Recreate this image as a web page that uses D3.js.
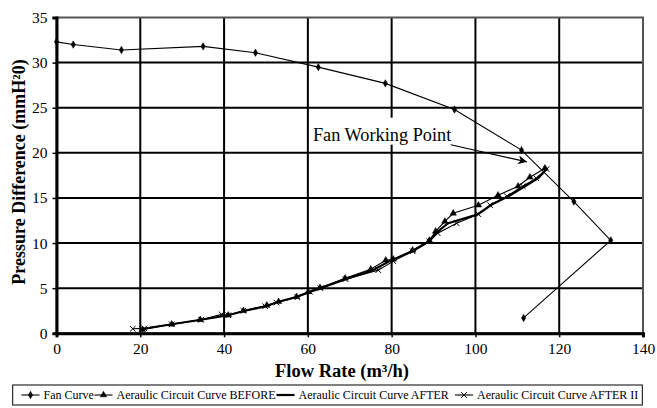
<!DOCTYPE html>
<html>
<head>
<meta charset="utf-8">
<script src="https://cdn.jsdelivr.net/npm/d3@7"></script>
<style>
  body { margin: 0; background: #fff; }
  svg { display: block; font-family: "Liberation Serif", "Times New Roman", serif; }
</style>
</head>
<body>
<svg width="657" height="408"></svg>
<script>
// data
let fanFlow = [0, 4, 15.5, 35, 47.5, 62.5, 78.5, 95, 111, 123.5, 132.3, 111.5];
let fanPressure = [32.3, 32.0, 31.4, 31.8, 31.1, 29.5, 27.7, 24.8, 20.3, 14.6, 10.3, 1.7];

let beforeFlow = [20.5, 27.5, 34.3, 41, 44.6, 50.2, 53, 57.3, 60.1, 62.9, 68.9, 75, 78.6, 80.4, 85, 89, 90.5, 92.7, 94.7, 100.7, 105.4, 110.2, 113, 116.6];
let beforePressure = [0.4, 1.0, 1.5, 2.0, 2.5, 3.1, 3.5, 4.05, 4.6, 5.05, 6.1, 7.1, 8.1, 8.2, 9.2, 10.3, 11.3, 12.4, 13.3, 14.2, 15.3, 16.3, 17.3, 18.3];

let afterFlow = [20, 27.5, 34.5, 41, 45, 50, 53, 57, 60, 63, 69, 75.5, 79.5, 85, 89, 90.8, 93.5, 100.6, 104, 108, 111.8, 115, 117.2];
let afterPressure = [0.45, 1.0, 1.5, 2.0, 2.5, 3.0, 3.5, 4.0, 4.5, 5.0, 6.0, 7.0, 8.0, 9.1, 10.2, 11.2, 12.2, 13.2, 14.3, 15.2, 16.3, 17.2, 18.3];

let after2Flow = [18.2, 21, 27.5, 34.5, 39.4, 41, 44.6, 49.8, 52.5, 57.5, 60.5, 63, 69, 76.8, 80.4, 85, 89, 91, 95.5, 100.7, 103.5, 107.5, 111.3, 114.5, 117];
let after2Pressure = [0.5, 0.55, 1.0, 1.5, 2.1, 2.0, 2.5, 3.0, 3.4, 4.0, 4.6, 5.0, 6.0, 7.0, 8.0, 9.1, 10.2, 11.1, 12.2, 13.2, 14.2, 15.2, 16.3, 17.2, 18.2];

let xTicks = [0, 20, 40, 60, 80, 100, 120, 140];
let yTicks = [0, 5, 10, 15, 20, 25, 30, 35];
let seriesNames = ["Fan Curve", "Aeraulic Circuit Curve BEFORE", "Aeraulic Circuit Curve AFTER", "Aeraulic Circuit Curve AFTER II"];

let svg = d3.select("svg"),
    margin = {top: 17.5, right: 14, bottom: 74.7, left: 56.5},
    width = 657 - margin.left - margin.right,
    height = 408 - margin.top - margin.bottom;

let x = d3.scaleLinear().domain([0, 140]).range([0, width]);
let y = d3.scaleLinear().domain([0, 35]).range([height, 0]);

let g = svg.append("g").attr("transform", `translate(${margin.left},${margin.top})`);

// grid
g.append("g").selectAll("line.h")
  .data(yTicks.slice(1, -1))
  .join("line")
    .attr("x1", 0).attr("x2", width)
    .attr("y1", d => y(d)).attr("y2", d => y(d))
    .attr("stroke", "#000").attr("stroke-width", 2);
g.append("g").selectAll("line.v")
  .data(xTicks.slice(1, -1))
  .join("line")
    .attr("y1", 0).attr("y2", height)
    .attr("x1", d => x(d)).attr("x2", d => x(d))
    .attr("stroke", "#000").attr("stroke-width", 2);

// frame
g.append("rect")
  .attr("width", width).attr("height", height)
  .attr("fill", "none").attr("stroke", "#555").attr("stroke-width", 2);

// axes
let xAxis = g.append("g")
  .attr("transform", `translate(0,${height})`)
  .call(d3.axisBottom(x).tickValues(xTicks).tickSize(4).tickPadding(6));
let yAxis = g.append("g")
  .call(d3.axisLeft(y).tickValues(yTicks).tickSize(4).tickPadding(5));
[xAxis, yAxis].forEach(a => {
  a.attr("font-family", null);
  a.select(".domain").attr("stroke-width", 3);
  a.selectAll(".tick line").attr("stroke-width", 1.5);
  a.selectAll("text").attr("font-size", 15.5).attr("fill", "#000");
});

// annotation
g.append("rect")
  .attr("x", x(60.8)).attr("y", y(23.9))
  .attr("width", 146).attr("height", 27)
  .attr("fill", "#fff");
g.append("text")
  .attr("x", x(61.2)).attr("y", y(21.35))
  .attr("font-size", 18.3)
  .text("Fan Working Point");

svg.append("defs").append("marker")
  .attr("id", "arrow")
  .attr("viewBox", "0 0 10 10")
  .attr("refX", 10).attr("refY", 5)
  .attr("markerWidth", 12).attr("markerHeight", 9)
  .attr("markerUnits", "userSpaceOnUse")
  .attr("orient", "auto")
  .append("path").attr("d", "M0,0L10,5L0,10L3,5Z").attr("fill", "#000");

g.append("line")
  .attr("x1", x(94.1)).attr("y1", y(20.9))
  .attr("x2", x(112.3)).attr("y2", y(19.0))
  .attr("stroke", "#000").attr("stroke-width", 1.2)
  .attr("marker-end", "url(#arrow)");

// series
let line = d3.line().x(d => x(d[0])).y(d => y(d[1]));
let zipped = (a, b) => a.map((v, i) => [v, b[i]]);

let series = [
  {pts: zipped(fanFlow, fanPressure), w: 1.1, sym: d3.symbolDiamond, size: 16, fill: true},
  {pts: zipped(beforeFlow, beforePressure), w: 1.1, sym: d3.symbolTriangle, size: 18, fill: true},
  {pts: zipped(afterFlow, afterPressure), w: 2.2, sym: null},
  {pts: zipped(after2Flow, after2Pressure), w: 1.1, sym: d3.symbolX, size: 22, fill: false}
];

series.forEach(s => {
  g.append("path")
    .attr("d", line(s.pts))
    .attr("fill", "none").attr("stroke", "#000").attr("stroke-width", s.w);
  if (s.sym) {
    g.append("g").selectAll("path")
      .data(s.pts)
      .join("path")
        .attr("transform", d => `translate(${x(d[0])},${y(d[1])})`)
        .attr("d", d3.symbol(s.sym, s.size))
        .attr("fill", s.fill ? "#000" : "none")
        .attr("stroke", "#000").attr("stroke-width", s.fill ? 0.5 : 1);
  }
});

// axis titles
svg.append("text")
  .attr("x", 342).attr("y", 377)
  .attr("text-anchor", "middle")
  .attr("font-weight", "bold").attr("font-size", 18.5)
  .text("Flow Rate (m³/h)");
svg.append("text")
  .attr("transform", "translate(25,172) rotate(-90)")
  .attr("text-anchor", "middle")
  .attr("font-weight", "bold").attr("font-size", 18)
  .text("Pressure Difference (mmH²0)");

// legend
svg.append("rect")
  .attr("x", 12.7).attr("y", 385)
  .attr("width", 629.6).attr("height", 20)
  .attr("fill", "#fff").attr("stroke", "#000").attr("stroke-width", 1);

let legendX = [21.5, 94.5, 276.5, 455];
let leg = svg.append("g").selectAll("g")
  .data(series)
  .join("g")
    .attr("transform", (d, i) => `translate(${legendX[i]},395)`);
leg.append("line")
  .attr("x1", 0).attr("x2", 18)
  .attr("stroke", "#000").attr("stroke-width", d => d.w);
leg.filter(d => d.sym).append("path")
  .attr("transform", "translate(9,0)")
  .attr("d", d => d3.symbol(d.sym, d.size)())
  .attr("fill", d => d.fill ? "#000" : "none")
  .attr("stroke", "#000").attr("stroke-width", d => d.fill ? 0.5 : 1);
leg.append("text")
  .attr("x", 22).attr("y", 4)
  .attr("font-size", 12)
  .text((d, i) => seriesNames[i]);
</script>
</body>
</html>
